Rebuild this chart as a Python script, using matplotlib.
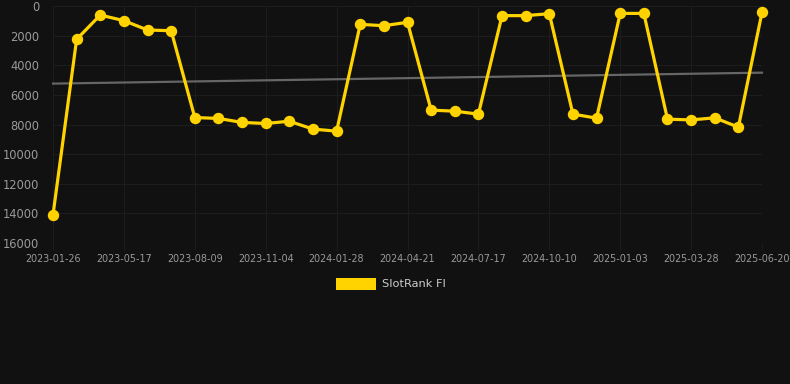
import matplotlib
matplotlib.use("Agg")
import matplotlib.pyplot as plt
import numpy as np
from matplotlib.patches import Rectangle

tick_labels = ["2023-01-26", "2023-05-17", "2023-08-09", "2023-11-04", "2024-01-28",
               "2024-04-21", "2024-07-17", "2024-10-10", "2025-01-03", "2025-03-28",
               "2025-06-20"]
rank_values = [14100, 2250, 610, 990, 1620, 1670, 7530, 7590, 7860, 7930, 7780,
               8310, 8450, 1240, 1330, 1100, 7030, 7100, 7300, 650, 650, 520,
               7300, 7570, 500, 500, 7640, 7690, 7550, 8180, 430]
series_name = "SlotRank FI"
y_ticks = [0, 2000, 4000, 6000, 8000, 10000, 12000, 14000, 16000]

BG = "#111111"
YELLOW = "#FFD300"

fig = plt.figure(figsize=(7.9, 3.84), dpi=100, facecolor=BG)
W, H = 790, 384
ax = fig.add_axes([53 / W, (H - 243) / H, (762 - 53) / W, (243 - 6) / H])
ax.set_facecolor(BG)

x = np.arange(len(rank_values))
y = np.array(rank_values, dtype=float)

# trend line (linear fit)
coef = np.polyfit(x, y, 1)
ax.plot(x, np.polyval(coef, x), color="#666666", lw=1.6, zorder=2, clip_on=False)

ax.plot(x, y, color=YELLOW, lw=2.3, marker="o", markersize=7.2,
        markerfacecolor=YELLOW, markeredgecolor=YELLOW, zorder=3,
        solid_joinstyle="round", clip_on=False)

ax.set_xlim(0, len(rank_values) - 1)
ax.set_ylim(16000, 0)
ax.set_yticks(y_ticks)
ax.set_yticklabels([str(v) for v in y_ticks])
tick_pos = list(range(0, len(rank_values), 3))
ax.set_xticks(tick_pos)
ax.set_xticklabels(tick_labels)

ax.grid(True, color="#1d1d1d", lw=0.8)
ax.set_axisbelow(True)
for s in ax.spines.values():
    s.set_visible(False)
ax.tick_params(axis="y", colors="#1d1d1d", labelcolor="#9a9a9a", labelsize=8.3,
               length=0, pad=10)
ax.tick_params(axis="x", colors="#1d1d1d", labelcolor="#9a9a9a", labelsize=6.9,
               length=5, pad=3)

# legend
fig.patches.append(Rectangle((336 / W, (H - 290) / H), 40 / W, 12 / H,
                             transform=fig.transFigure, facecolor=YELLOW,
                             edgecolor="none"))
fig.text(382 / W, (H - 284) / H, series_name, color="#cccccc", fontsize=8.2,
         va="center", ha="left")

fig.savefig("out.png", dpi=100, facecolor=BG)
